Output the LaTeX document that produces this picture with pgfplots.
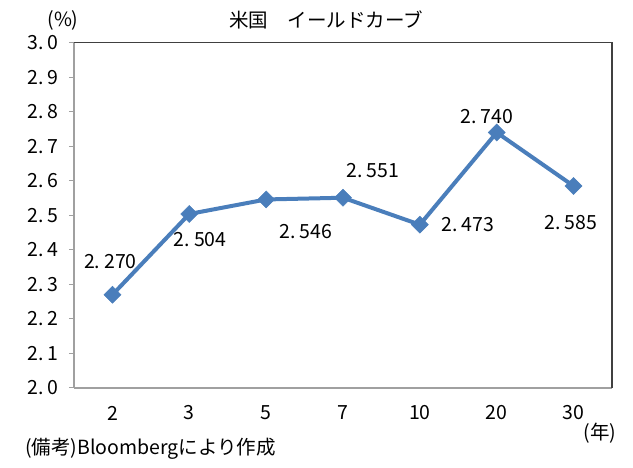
\documentclass[border=0pt]{standalone}
\usepackage{pgfplots}
\pgfplotsset{compat=1.18}
\usepackage{pgfplotstable}
\usepackage{fontspec}
\setmainfont{Noto Sans CJK JP}
\definecolor{serblue}{HTML}{4A7EBB}
\definecolor{axgray}{HTML}{A0A0A0}
\definecolor{boxgray}{HTML}{404040}
\pgfplotstableread{
x y dx dy
0 2.270 -2 33
1 2.504 11 -26
2 2.546 40 -32
3 2.551 30 27
4 2.473 48 0
5 2.740 -10 16
6 2.585 -3 -37
}\curve
\newcommand{\chartfont}{\fontsize{19.5}{22}\selectfont}
\begin{document}
\chartfont
\begin{tikzpicture}
\path[use as bounding box] (0,0) rectangle (633pt,468pt);
\begin{axis}[
  at={(74pt,80pt)}, anchor=south west,
  scale only axis, width=538pt, height=345.3pt,
  xmin=-0.5, xmax=6.5, ymin=2.0, ymax=3.0,
  xtick={0,...,6}, xticklabels={2,3,5,7,10,20,30},
  ytick={2.0,2.1,...,3.01},
  axis lines*=left,
  axis line style={axgray, line width=1.3pt, -},
  every tick/.style={axgray, line width=1pt},
  tick align=outside,
  x tick style={draw=none},
  ytick style={axgray},
  major tick length=5pt,
  /pgf/number format/assume math mode=true,
  yticklabel style={/pgf/number format/fixed, /pgf/number format/fixed zerofill, /pgf/number format/precision=1, /pgf/number format/set decimal separator={.\hspace{0.2em}}, font=\chartfont, xshift=-4pt},
  xticklabel style={font=\chartfont, anchor=center, yshift=-20pt},
  clip=false,
]
\draw[boxgray, line width=1.3pt] (rel axis cs:0,1) -- (rel axis cs:1,1) -- (rel axis cs:1,0);
\addplot[serblue, line width=4pt, mark=square*, mark size=6pt, mark options={rotate=45, solid, fill=serblue, draw=serblue, line width=0.5pt},
  visualization depends on={\thisrow{dx} \as \dx},
  visualization depends on={\thisrow{dy} \as \dy},
  point meta=explicit,
  nodes near coords={\pgfmathprintnumber[fixed, fixed zerofill, precision=3, set decimal separator={.\hspace{0.2em}}, assume math mode=true]{\pgfplotspointmeta}},
  nodes near coords style={anchor=center, xshift=\dx pt, yshift=\dy pt, black, font=\chartfont},
] table[x=x, y=y, meta=y] {\curve};
\end{axis}
\node[anchor=center] at (326pt,448pt) {米国　イールドカーブ};
\node[anchor=center] at (63pt,448pt) {(\%)};
\node[anchor=center] at (600pt,35pt) {(年)};
\node[anchor=west, inner sep=0pt] at (25pt,19pt) {(備考)Bloombergにより作成};
\end{tikzpicture}
\end{document}
